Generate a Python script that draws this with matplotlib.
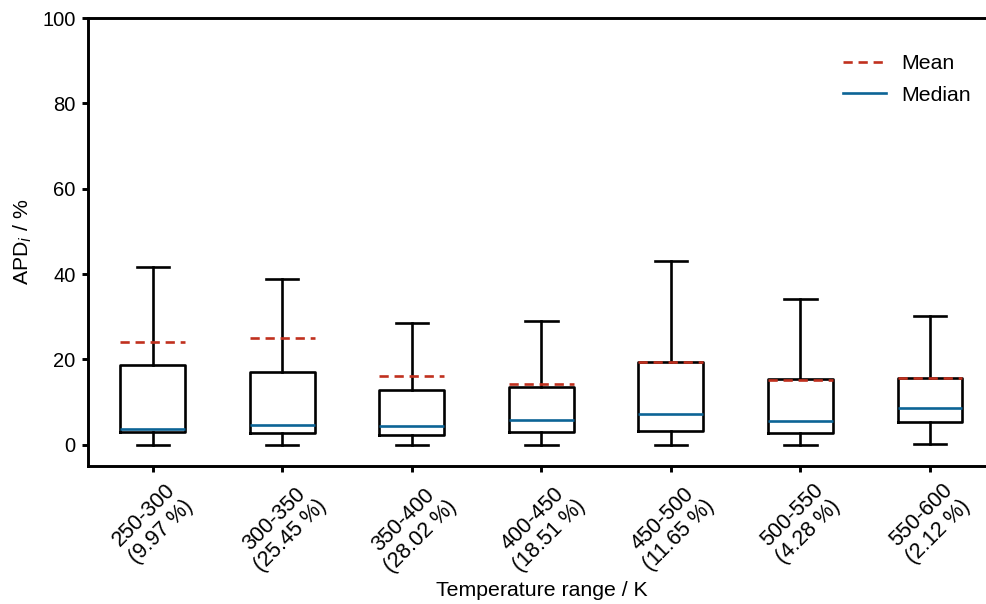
import matplotlib
matplotlib.use('Agg')
import matplotlib.pyplot as plt
from matplotlib.lines import Line2D

# ---------------------------------------------------------------
# data
# ---------------------------------------------------------------
ranges   = ['250-300', '300-350', '350-400', '400-450', '450-500', '500-550', '550-600']
shares   = ['9.97', '25.45', '28.02', '18.51', '11.65', '4.28', '2.12']
whislo   = [0.0, 0.0, 0.0, 0.0, 0.0, 0.0, 0.15]
q1       = [2.9, 2.7, 2.2, 2.9, 3.2, 2.8, 5.2]
median   = [3.6, 4.7, 4.4, 5.7, 7.2, 5.6, 8.5]
q3       = [18.6, 17.1, 12.8, 13.5, 19.3, 15.5, 15.7]
whishi   = [41.6, 38.9, 28.6, 29.0, 43.1, 34.1, 30.2]
mean     = [24.0, 24.9, 16.2, 14.3, 19.4, 15.1, 15.6]

mean_col = '#c0301e'
med_col  = '#0c6496'

plt.rcParams['font.family'] = ['Liberation Sans', 'DejaVu Sans']
plt.rcParams['font.size'] = 15.3

fig = plt.figure(figsize=(9.86, 6.04), dpi=100)
ax = fig.add_axes([0.0892, 0.2285, 0.9196, 0.7415])

stats = []
for i in range(len(ranges)):
    stats.append({'whislo': whislo[i], 'q1': q1[i], 'med': median[i],
                  'q3': q3[i], 'whishi': whishi[i], 'mean': mean[i],
                  'fliers': []})

lw = 1.9
ax.bxp(stats, positions=range(1, len(ranges) + 1), widths=0.5,
       showmeans=True, meanline=True, showfliers=False,
       boxprops=dict(color='black', linewidth=lw),
       whiskerprops=dict(color='black', linewidth=lw),
       capprops=dict(color='black', linewidth=lw),
       medianprops=dict(color=med_col, linewidth=lw),
       meanprops=dict(color=mean_col, linewidth=lw, linestyle=(0, (3.5, 2.2))))

ax.set_xlim(0.5, 7.5)
ax.set_ylim(-5, 100)
ax.set_yticks([0, 20, 40, 60, 80, 100])
ax.set_xticks(range(1, len(ranges) + 1))
ax.set_xticklabels(['{}\n({} %)'.format(r, s) for r, s in zip(ranges, shares)],
                   rotation=45, ha='center', va='top', linespacing=1.15,
                   fontsize=15.5)

ax.spines['right'].set_visible(False)
for s in ['left', 'top', 'bottom']:
    ax.spines[s].set_linewidth(2.1)
ax.tick_params(width=2.1, length=4.5, direction='out')
ax.tick_params(axis='y', labelsize=14.5, pad=4.5)
ax.tick_params(axis='x', pad=5)

ax.set_ylabel('APD$_i$ / %')
ax.set_xlabel('Temperature range / K')
ax.xaxis.set_label_coords(0.5, -0.257)
ax.yaxis.set_label_coords(-0.06, 0.5)

handles = [Line2D([], [], color=mean_col, linewidth=lw, linestyle=(0, (3.5, 2.2))),
           Line2D([], [], color=med_col, linewidth=lw)]
fig.legend(handles, ['Mean', 'Median'], loc='upper left',
           bbox_to_anchor=(0.855, 0.91), frameon=False, fontsize=15.3,
           handlelength=2.0, handletextpad=0.75, labelspacing=0.58,
           borderaxespad=0, borderpad=0)

fig.savefig('out.png', dpi=100)
